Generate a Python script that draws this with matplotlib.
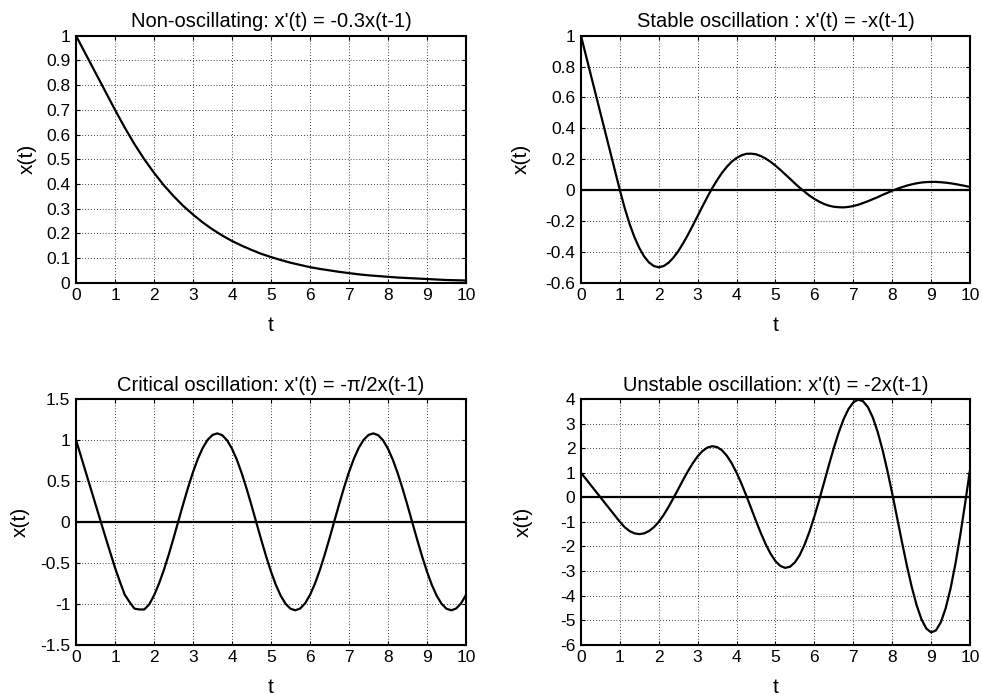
import numpy as np
import matplotlib
matplotlib.use("Agg")
import matplotlib.pyplot as plt
from matplotlib.ticker import FuncFormatter

plt.rcParams['font.family'] = ['Liberation Sans', 'DejaVu Sans']

# sample times
t_q = np.linspace(0, 10, 41)   # step 0.25
t_e = np.linspace(0, 10, 81)   # step 0.125

# x'(t) = -0.3x(t-1)   (every 0.25)
x_non = [1.0, 0.925, 0.85, 0.775, 0.7, 0.628, 0.561, 0.500, 0.445, 0.395,
         0.351, 0.311, 0.276, 0.244, 0.216, 0.191, 0.169, 0.150, 0.133, 0.117,
         0.104, 0.092, 0.081, 0.072, 0.063, 0.056, 0.050, 0.044, 0.039, 0.034,
         0.030, 0.027, 0.024, 0.021, 0.019, 0.017, 0.015, 0.013, 0.011, 0.010,
         0.009]

# x'(t) = -x(t-1)   (every 0.125)
x_stable = [1.0, 0.875, 0.75, 0.625, 0.5, 0.375, 0.25, 0.125, 0.0,
            -0.117, -0.219, -0.305, -0.375, -0.430, -0.469, -0.492, -0.5,
            -0.492, -0.471, -0.438, -0.396, -0.345, -0.289, -0.229, -0.167,
            -0.105, -0.044, 0.013, 0.065, 0.112, 0.151, 0.184, 0.208,
            0.225, 0.235, 0.236, 0.232, 0.220, 0.204, 0.183, 0.158,
            0.131, 0.102, 0.073, 0.043, 0.015, -0.011, -0.036, -0.057,
            -0.075, -0.090, -0.101, -0.108, -0.111, -0.112, -0.109, -0.103,
            -0.095, -0.084, -0.072, -0.059, -0.046, -0.031, -0.018, -0.004,
            0.008, 0.019, 0.029, 0.037, 0.044, 0.049, 0.052, 0.053,
            0.053, 0.051, 0.048, 0.044, 0.039, 0.033, 0.027, 0.020]

# x'(t) = -pi/2 x(t-1)   (every 0.125)
x_crit = [1.0, 0.804, 0.607, 0.411, 0.215, 0.018, -0.178, -0.37, -0.56,
          -0.73, -0.89, -0.98, -1.06, -1.07, -1.07, -1.01, -0.90,
          -0.758, -0.593, -0.405, -0.202, 0.009, 0.219, 0.421, 0.607,
          0.770, 0.903, 1.001, 1.061, 1.080, 1.058, 0.995, 0.893,
          0.758, 0.593, 0.405, 0.202, -0.009, -0.219, -0.421, -0.607,
          -0.770, -0.903, -1.001, -1.061, -1.080, -1.058, -0.995, -0.893,
          -0.758, -0.593, -0.405, -0.202, 0.009, 0.219, 0.421, 0.607,
          0.770, 0.903, 1.001, 1.061, 1.080, 1.058, 0.995, 0.893,
          0.758, 0.593, 0.405, 0.202, -0.009, -0.219, -0.421, -0.607,
          -0.770, -0.903, -1.001, -1.061, -1.080, -1.058, -0.995, -0.893]

# x'(t) = -2x(t-1)   (every 0.125)
x_unst = [1.0, 0.75, 0.5, 0.25, 0.0, -0.25, -0.5, -0.75, -1.0,
          -1.219, -1.375, -1.469, -1.5, -1.469, -1.375, -1.219, -1.0,
          -0.721, -0.396, -0.039, 0.333, 0.706, 1.063, 1.388, 1.667,
          1.883, 2.023, 2.078, 2.042, 1.912, 1.690, 1.383, 1.0,
          0.555, 0.065, -0.450, -0.967, -1.463, -1.915, -2.301, -2.6,
          -2.795, -2.874, -2.826, -2.649, -2.344, -1.921, -1.393, -0.779,
          -0.102, 0.609, 1.324, 2.011, 2.638, 3.173, 3.590, 3.863,
          3.974, 3.911, 3.670, 3.252, 2.668, 1.940, 1.092, 0.158,
          -0.825, -1.815, -2.766, -3.635, -4.378, -4.957, -5.340, -5.5,
          -5.417, -5.087, -4.513, -3.711, -2.706, -1.535, -0.242, 1.122]

titles = ["Non-oscillating: x'(t) = -0.3x(t-1)",
          "Stable oscillation : x'(t) = -x(t-1)",
          "Critical oscillation: x'(t) = -\u03c0/2x(t-1)",
          "Unstable oscillation: x'(t) = -2x(t-1)"]
xticks = list(range(0, 11))
yticks_non = [0, 0.1, 0.2, 0.3, 0.4, 0.5, 0.6, 0.7, 0.8, 0.9, 1]
yticks_stable = [-0.6, -0.4, -0.2, 0, 0.2, 0.4, 0.6, 0.8, 1]
yticks_crit = [-1.5, -1, -0.5, 0, 0.5, 1, 1.5]
yticks_unst = [-6, -5, -4, -3, -2, -1, 0, 1, 2, 3, 4]

fig = plt.figure(figsize=(9.82, 6.95), dpi=100)
boxes = [[0.0774, 0.5932, 0.3971, 0.3554],
         [0.5916, 0.5932, 0.3962, 0.3554],
         [0.0774, 0.0724, 0.3971, 0.3535],
         [0.5916, 0.0724, 0.3962, 0.3535]]
series = [(t_q, x_non), (t_e, x_stable), (t_e, x_crit), (t_e, x_unst)]
yticks = [yticks_non, yticks_stable, yticks_crit, yticks_unst]
ylab_x = [-0.10, -0.13, -0.118, -0.125]

fmt = FuncFormatter(lambda v, p: f"{round(v, 6) + 0:g}")

for i in range(4):
    ax = fig.add_axes(boxes[i])
    t, x = series[i]
    if i > 0:
        ax.axhline(0, color='black', lw=1.6, zorder=2)
    ax.plot(t, x, color='black', lw=1.6, zorder=3)
    ax.set_xlim(0, 10)
    ax.set_ylim(yticks[i][0], yticks[i][-1])
    ax.set_xticks(xticks)
    ax.set_yticks(yticks[i])
    ax.yaxis.set_major_formatter(fmt)
    ax.xaxis.set_major_formatter(fmt)
    ax.grid(True, color='black', lw=0.6, linestyle=(0, (1, 2.5)))
    ax.tick_params(direction='in', length=3, width=0.8, top=True, right=True,
                   labelsize=12.5, pad=4)
    for s in ax.spines.values():
        s.set_linewidth(1.5)
    ax.set_title(titles[i], fontsize=14.5, pad=6)
    ax.set_xlabel('t', fontsize=15, labelpad=9)
    ax.set_ylabel('x(t)', fontsize=15)
    ax.yaxis.set_label_coords(ylab_x[i], 0.5)

fig.savefig('out.png', dpi=100)
